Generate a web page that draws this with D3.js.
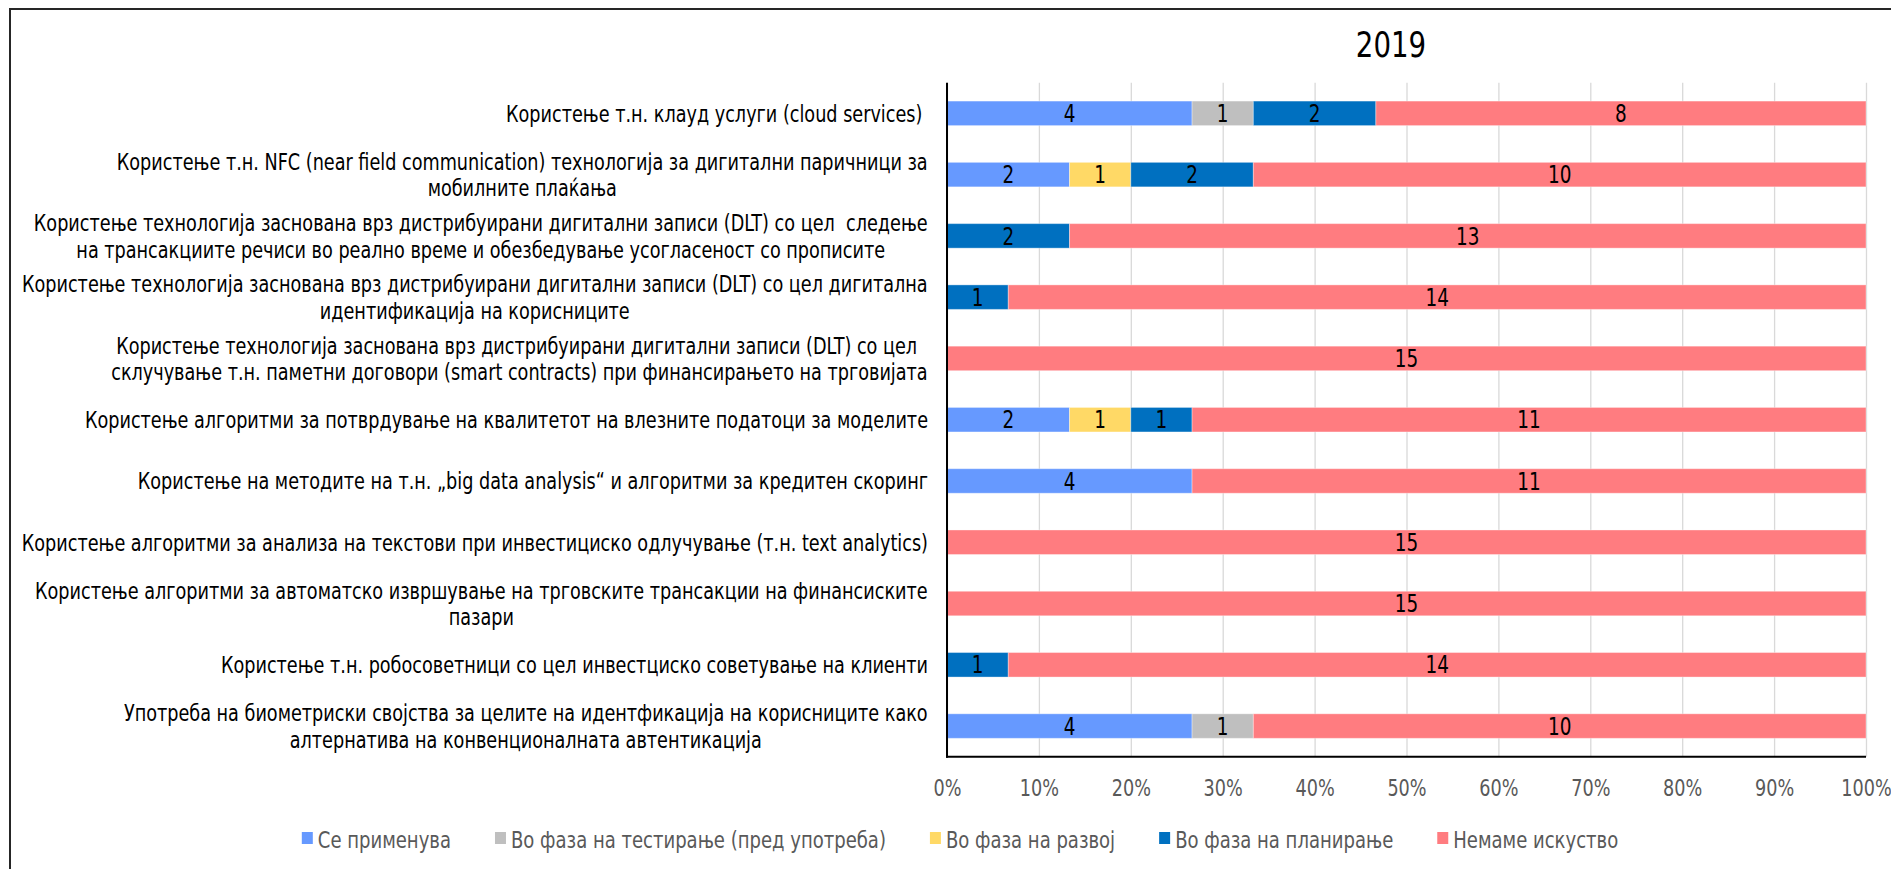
<!DOCTYPE html>
<html>
<head>
<meta charset="utf-8">
<script src="https://cdnjs.cloudflare.com/ajax/libs/d3/7.8.5/d3.min.js"></script>
<style>
  html, body { margin: 0; padding: 0; background: #fff; }
  svg { display: block; }
  text { font-family: "DejaVu Sans Condensed", "DejaVu Sans", sans-serif; }
</style>
</head>
<body>
<svg id="chart" width="1891" height="869"></svg>
<script>
// ---------- DATA ----------
const categories = [
  "Користење т.н. клауд услуги (cloud services) ",
  "Користење т.н. NFC (near field communication) технологија за дигитални паричници за\nмобилните плаќања",
  "Користење технологија заснована врз дистрибуирани дигитални записи (DLT) со цел  следење\nна трансакциите речиси во реално време и обезбедување усогласеност со прописите",
  "Користење технологија заснована врз дистрибуирани дигитални записи (DLT) со цел дигитална\nидентификација на корисниците",
  "Користење технологија заснована врз дистрибуирани дигитални записи (DLT) со цел \nсклучување т.н. паметни договори (smart contracts) при финансирањето на трговијата",
  "Користење алгоритми за потврдување на квалитетот на влезните податоци за моделите",
  "Користење на методите на т.н. „big data analysis“ и алгоритми за кредитен скоринг",
  "Користење алгоритми за анализа на текстови при инвестициско одлучување (т.н. text analytics)",
  "Користење алгоритми за автоматско извршување на трговските трансакции на финансиските\nпазари",
  "Користење т.н. робосоветници со цел инвестциско советување на клиенти",
  "Употреба на биометриски својства за целите на идентфикација на корисниците како\nалтернатива на конвенционалната автентикација"
];
const seriesNames = [
  "Се применува",
  "Во фаза на тестирање (пред употреба)",
  "Во фаза на развој",
  "Во фаза на планирање",
  "Немаме искуство"
];
const applied      = [4, 2, 0, 0, 0, 2, 4, 0, 0, 0, 4];
const testing      = [1, 0, 0, 0, 0, 0, 0, 0, 0, 0, 1];
const development  = [0, 1, 0, 0, 0, 1, 0, 0, 0, 0, 0];
const planning     = [2, 2, 2, 1, 0, 1, 0, 0, 0, 1, 0];
const noExperience = [8, 10, 13, 14, 15, 11, 11, 15, 15, 14, 10];
const tickValues = [0, 0.1, 0.2, 0.3, 0.4, 0.5, 0.6, 0.7, 0.8, 0.9, 1.0];
const tickLabels = ["0%", "10%", "20%", "30%", "40%", "50%", "60%", "70%", "80%", "90%", "100%"];
const title = "2019";

// ---------- STYLE ----------
const colors = ["#6699FF", "#BFBFBF", "#FFD966", "#0070C0", "#FF7C80"];
const plot = { left: 947, right: 1866, top: 82.7, bottom: 756.7 };
const fontSize = 23;

const svg = d3.select("#chart");
svg.append("rect").attr("width", 1891).attr("height", 869).attr("fill", "#fff");
svg.append("rect").attr("x", 10).attr("y", 9).attr("width", 1900).attr("height", 900)
  .attr("fill", "none").attr("stroke", "#262626").attr("stroke-width", 2);

// measure to derive horizontal condensing factor
const probe = svg.append("text").attr("font-size", fontSize).text(categories[7]);
const SX = 907 / probe.node().getComputedTextLength();
probe.remove();

function place(sel, x, y) {
  sel.attr("x", 0).attr("y", 0).attr("transform", `translate(${x},${y}) scale(${SX},1)`);
  return sel;
}

// data table
const seriesArrays = [applied, testing, development, planning, noExperience];
const rows = categories.map((c, i) => {
  const r = { idx: i };
  seriesNames.forEach((s, k) => r[s] = seriesArrays[k][i]);
  return r;
});
const stacked = d3.stack().keys(seriesNames).offset(d3.stackOffsetExpand)(rows);

const x = d3.scaleLinear().domain([0, 1]).range([plot.left, plot.right]);
const y = d3.scaleBand().domain(d3.range(categories.length))
  .range([plot.top, plot.bottom]).paddingInner(0.6).paddingOuter(0.3);

// gridlines
svg.append("g")
  .attr("transform", `translate(0,${plot.bottom})`)
  .call(d3.axisBottom(x).tickValues(tickValues).tickSize(-(plot.bottom - plot.top)).tickFormat(""))
  .call(g => g.select(".domain").remove())
  .call(g => g.selectAll("line").attr("stroke", "#D9D9D9").attr("stroke-width", 1.3));

// bars
const layer = svg.append("g").selectAll("g").data(stacked).join("g")
  .attr("fill", (d, i) => colors[i]);
layer.selectAll("rect").data(d => d.map(v => ({ v, key: d.key, idx: v.data.idx })))
  .join("rect")
  .filter(d => d.v[1] - d.v[0] > 0)
  .attr("x", d => x(d.v[0]))
  .attr("y", d => y(d.idx))
  .attr("width", d => x(d.v[1]) - x(d.v[0]))
  .attr("height", y.bandwidth())
  .attr("stroke", "#ffffff").attr("stroke-opacity", 0.35).attr("stroke-width", 1);

// data labels
stacked.forEach(s => {
  s.forEach(v => {
    const val = v.data[s.key];
    if (val > 0) {
      place(svg.append("text")
        .attr("font-size", 24).attr("text-anchor", "middle").attr("fill", "#000")
        .text(val), (x(v[0]) + x(v[1])) / 2, y(v.data.idx) + y.bandwidth() / 2 + 8.7);
    }
  });
});

// axis lines
svg.append("line").attr("x1", plot.left).attr("x2", plot.left)
  .attr("y1", plot.top).attr("y2", plot.bottom + 1).attr("stroke", "#000").attr("stroke-width", 2);
svg.append("line").attr("x1", plot.left - 1).attr("x2", plot.right)
  .attr("y1", plot.bottom).attr("y2", plot.bottom).attr("stroke", "#000").attr("stroke-width", 2);

// x tick labels
const xAxis = svg.append("g")
  .attr("transform", `translate(0,${plot.bottom})`)
  .call(d3.axisBottom(x).tickValues(tickValues).tickSize(0)
    .tickFormat((d, i) => tickLabels[i]));
xAxis.select(".domain").remove();
xAxis.selectAll("text")
  .attr("font-size", 23).attr("fill", "#595959").attr("dy", 0)
  .attr("font-family", "DejaVu Sans Condensed, DejaVu Sans, sans-serif")
  .attr("y", 0).attr("transform", `translate(0,39.5) scale(${SX},1)`);

// category labels
const labelRight = 928;
const lineH = 26.5;
categories.forEach((c, i) => {
  const lines = c.split("\n");
  const cy = y(i) + y.bandwidth() / 2;
  const texts = lines.map(l => svg.append("text")
    .attr("font-size", fontSize).attr("fill", "#000")
    .attr("xml:space", "preserve").style("white-space", "pre")
    .text(l));
  if (lines.length === 1) {
    place(texts[0].attr("text-anchor", "end"), labelRight, cy + 8.4);
  } else {
    const widths = texts.map(t => t.node().getComputedTextLength() * SX);
    const W = d3.max(widths);
    const center = labelRight - W / 2;
    texts.forEach((t, k) => {
      place(t.attr("text-anchor", "middle"), center,
        cy + 8.4 + (k - (lines.length - 1) / 2) * lineH);
    });
  }
});

// title
place(svg.append("text").attr("font-size", 36).attr("text-anchor", "middle").attr("fill", "#000")
  .text(title), 1391, 56.7);

// legend
const legendG = svg.append("g");
const items = seriesNames.map((s, i) => {
  const g = legendG.append("g");
  g.append("rect").attr("width", 11).attr("height", 12).attr("y", 832).attr("fill", colors[i]);
  const t = place(g.append("text").attr("font-size", 23.5).attr("fill", "#595959").text(s), 0, 847);
  const w = t.node().getComputedTextLength() * SX;
  return { g, t, w };
});
const gap = 44, textOff = 16;
const total = d3.sum(items, d => textOff + d.w) + gap * (items.length - 1);
let lx = 960 - total / 2;
items.forEach(it => {
  it.g.select("rect").attr("x", lx);
  it.t.attr("transform", `translate(${lx + textOff},847.5) scale(${SX},1)`);
  lx += textOff + it.w + gap;
});
</script>
</body>
</html>
